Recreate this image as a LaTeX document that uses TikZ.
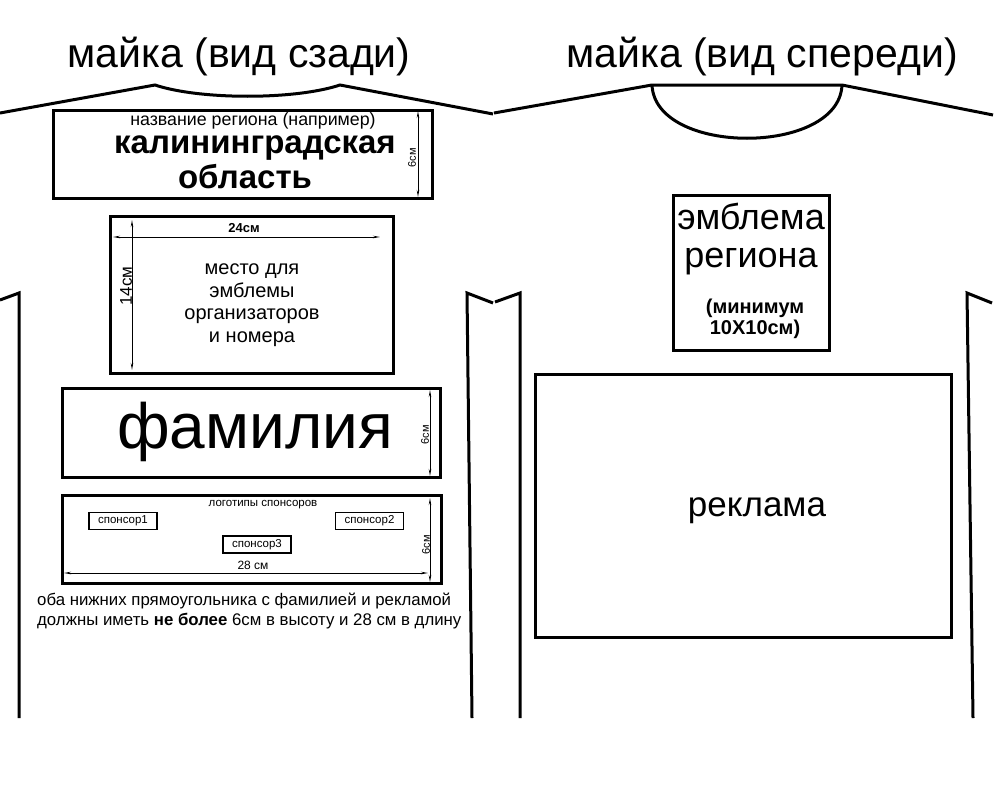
\documentclass[tikz,border=0pt]{standalone}
\usepackage{fontspec}
\setmainfont{Liberation Sans}
\usetikzlibrary{arrows.meta,positioning}

\begin{document}
\begin{tikzpicture}[
        x=1pt, y=-1pt,
        shirt/.style={line width=3pt, line join=miter},
        box/.style={draw, line width=3pt, inner sep=0pt},
        logo/.style={draw, line width=1.5pt, minimum width=68, minimum height=17, inner sep=0pt, font=\fontsize{11.5}{13}\selectfont},
        dim/.style={<->, >={Stealth[length=7pt,width=2.5pt]}, line width=0.9pt},
        dimlabel/.style={rotate=90, inner sep=0pt, font=\fontsize{11}{12}\selectfont},
        title/.style={anchor=base, font=\fontsize{41}{44}\selectfont}
    ]
    \useasboundingbox (0,0) rectangle (1000,800);

    % 1
    \node[title] (backtitle) at (239,67) {майка (вид сзади)};
    \node[title] (fronttitle) at (762,67) {майка (вид спереди)};

    % back
    \draw[shirt] (0,113) -- (155,85) .. controls (200,100) and (295,100) .. (340,85) -- (493,114);
    \draw[shirt] (0,300) -- (19,293) -- (19,718);
    \draw[shirt] (493,303) -- (467,293) -- (472,718);

    % front
    \draw[shirt] (494,113) -- (652,85) -- (842,85) -- (993,115);
    \draw[shirt] (652,85) .. controls (655,156) and (839,156) .. (842,85);
    \draw[shirt] (495,302) -- (520,293) -- (520,718);
    \draw[shirt] (992,303) -- (967,293) -- (973,718);

    % 2
    \node[box, minimum width=379, minimum height=88] (region) at (242.5,154) {};
    \node[anchor=base, font=\fontsize{17.8}{20}\selectfont] (regnote) at (253,125) {название региона (например)};
    \node[anchor=base, font=\fontsize{33}{36}\selectfont\bfseries] (regname1) at (255,153) {калининградская};
    \node[anchor=base, font=\fontsize{33}{36}\selectfont\bfseries] (regname2) at (245,188) {область};
    \coordinate (regtop) at (418,111);
    \coordinate (regbot) at (418,197);
    \draw[dim] (regtop) -- (regbot);
    \node[dimlabel] (reglen) at (412,158) {6см};

    % 3
    \node[box, minimum width=283, minimum height=157] (org) at (251.5,294.5) {};
    \node[align=center, font=\fontsize{20}{22.5}\selectfont] (orgtext) at (252,305) {место для\\эмблемы\\организаторов\\и номера};
    \coordinate (orgleft) at (113,237);
    \coordinate (orgright) at (380,237);
    \coordinate (orgtop) at (132,220);
    \coordinate (orgbot) at (132,370);
    \draw[dim] (orgleft) -- (orgright);
    \draw[dim] (orgtop) -- (orgbot);
    \node[anchor=base, font=\fontsize{13}{15}\selectfont\bfseries] (orgwidth) at (244,232) {24см};
    \node[rotate=90, inner sep=0pt, font=\fontsize{17}{19}\selectfont] (orgheight) at (126,286) {14см};

    % 4
    \node[box, minimum width=378, minimum height=89] (fam) at (251,432.5) {};
    \node[anchor=base, font=\fontsize{64}{68}\selectfont] (famtext) at (255,448) {фамилия};
    \coordinate (famtop) at (430,390);
    \coordinate (fambot) at (430,476);
    \draw[dim] (famtop) -- (fambot);
    \node[dimlabel] (famlen) at (425,435) {6см};

    % 5
    \node[box, minimum width=379, minimum height=88] (spons) at (251.5,539) {};
    \node[anchor=base, font=\fontsize{11.5}{13}\selectfont] (sponstext) at (263,506) {логотипы спонсоров};
    \node[logo] (spons1) at (123,521) {спонсор1};
    \node[logo] (spons2) at (369.5,521) {спонсор2};
    \node[logo] (spons3) at (257,544.5) {спонсор3};
    \node[anchor=base, font=\fontsize{12}{14}\selectfont] (sponswidth) at (253,569) {28 см};
    \coordinate (sponsleft) at (64,573);
    \coordinate (sponsright) at (428,573);
    \coordinate (sponstop) at (430,498);
    \coordinate (sponsbot) at (430,582);
    \draw[dim] (sponsleft) -- (sponsright);
    \draw[dim] (sponstop) -- (sponsbot);
    \node[dimlabel] (sponslen) at (426,545) {6см};

    \node[anchor=base west, align=left, inner sep=0pt, font=\fontsize{16.8}{20}\selectfont] (note) at (37,625) {оба нижних прямоугольника с фамилией и рекламой\\должны иметь \textbf{не более} 6см в высоту и 28 см в длину};

    % 6
    \node[box, minimum width=156, minimum height=155] (emblem) at (751,272.5) {};
    \node[align=center, font=\fontsize{36}{38}\selectfont] (embltext) at (751,239) {эмблема\\региона};
    \node[align=center, font=\fontsize{20}{21}\selectfont\bfseries] (emblsize) at (755,319) {(минимум\\10Х10см)};

    % 7
    \node[box, minimum width=416, minimum height=263] (ad) at (743,505.5) {};
    \node[anchor=base, font=\fontsize{35}{38}\selectfont] (adtext) at (757,516) {реклама};

\end{tikzpicture}
\end{document}
